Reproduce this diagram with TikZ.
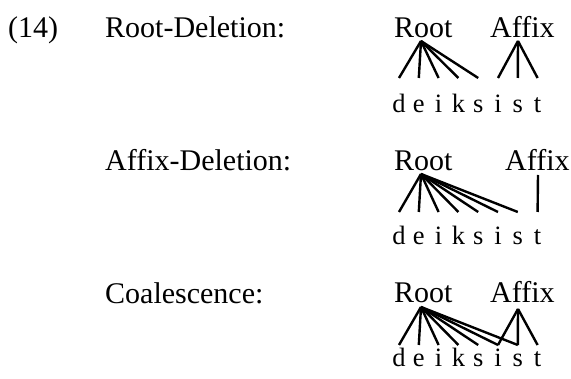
\documentclass[tikz,border=0pt]{standalone}
\usepackage{fontspec}
\setmainfont{Liberation Serif}
\usepackage{tikz}

\tikzset{
  lbl/.style={anchor=base west, inner sep=0pt, font=\fontsize{30}{36}\selectfont},
  seg/.style={anchor=base, inner sep=0pt, font=\fontsize{26.5}{32}\selectfont},
  assoc/.style={line width=2.4pt},
}

\begin{document}
\begin{tikzpicture}[x=1pt,y=-1pt]
  \useasboundingbox (0,0) rectangle (571,379);
  % labels
  \node[lbl] (num) at (8,38) {(14)};
  \node[lbl] (rd) at (105,38) {Root-Deletion:};
  \node[lbl] (ad) at (105,171) {Affix-Deletion:};
  \node[lbl] (co) at (105,304) {Coalescence:};
  % Root-Deletion
  \node[lbl] (root1) at (394,38) {Root};
  \node[lbl] (affix1) at (490,38) {Affix};
  \coordinate (r1) at (421,41);
  \coordinate (a1) at (518,41);
  \foreach \l [count=\i] in {d,e,i,k,s,i,s,t} {
    \node[seg] (s1-\i) at ({379.2+19.8*\i},113) {\l};
    \coordinate (b1-\i) at ({379.2+19.8*\i},78);
  }
  \foreach \i in {1,...,5} \draw[assoc] (r1) -- (b1-\i);
  \foreach \i in {6,7,8} \draw[assoc] (a1) -- (b1-\i);
  % Affix-Deletion
  \node[lbl] (root2) at (394,171) {Root};
  \node[lbl] (affix2) at (505,171) {Affix};
  \coordinate (r2) at (421,174);
  \coordinate (a2) at (538,175);
  \foreach \l [count=\i] in {d,e,i,k,s,i,s,t} {
    \node[seg] (s2-\i) at ({379.2+19.8*\i},245) {\l};
    \coordinate (b2-\i) at ({379.2+19.8*\i},212);
  }
  \foreach \i in {1,...,7} \draw[assoc] (r2) -- (b2-\i);
  \draw[assoc] (a2) -- (b2-8);
  % Coalescence
  \node[lbl] (root3) at (394,303) {Root};
  \node[lbl] (affix3) at (490,303) {Affix};
  \coordinate (r3) at (421,307);
  \coordinate (a3) at (518,309);
  \foreach \l [count=\i] in {d,e,i,k,s,i,s,t} {
    \node[seg] (s3-\i) at ({379.2+19.8*\i},367) {\l};
    \coordinate (b3-\i) at ({379.2+19.8*\i},345);
  }
  \foreach \i in {1,...,7} \draw[assoc] (r3) -- (b3-\i);
  \foreach \i in {6,7,8} \draw[assoc] (a3) -- (b3-\i);
\end{tikzpicture}
\end{document}
